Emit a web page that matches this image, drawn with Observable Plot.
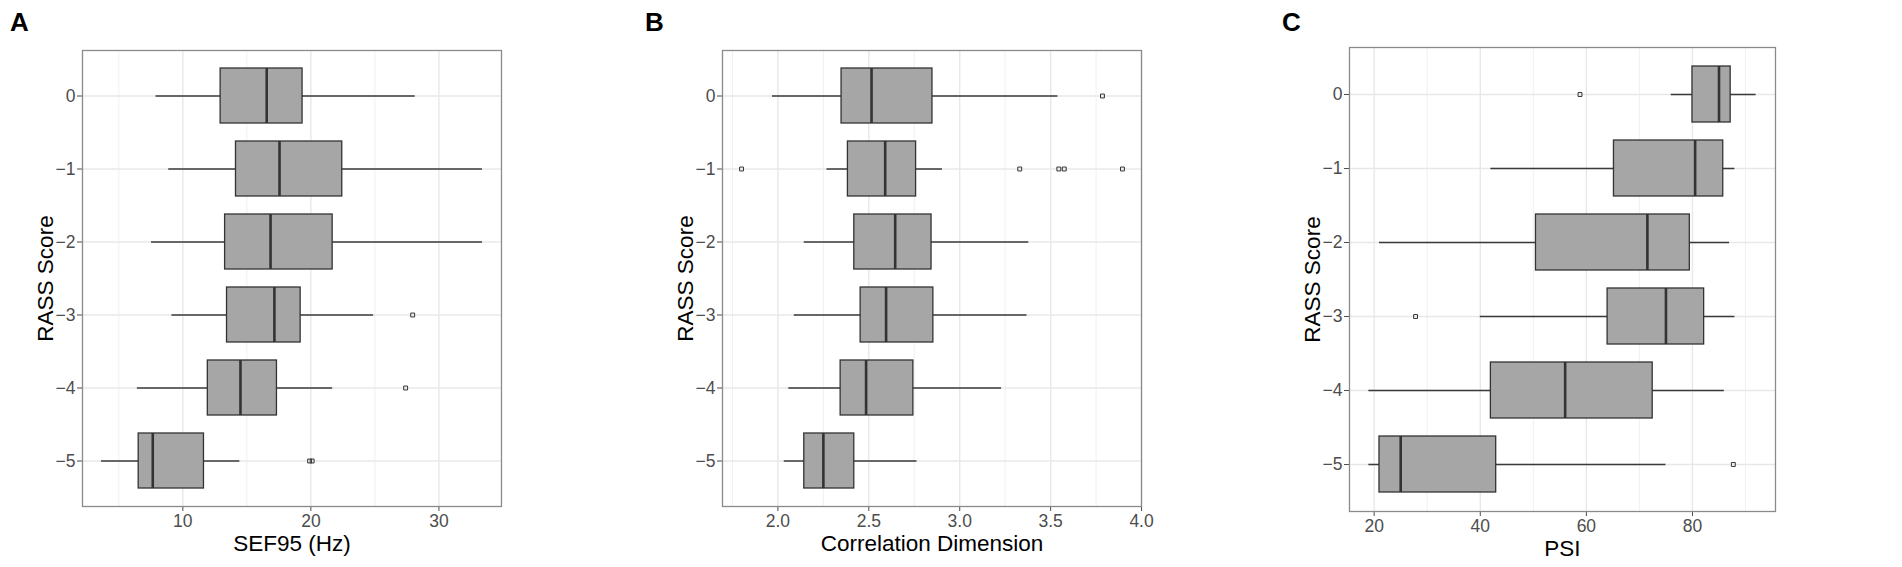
<!DOCTYPE html>
<html>
<head>
<meta charset="utf-8">
<script src="https://cdn.jsdelivr.net/npm/d3@7"></script>
<script src="https://cdn.jsdelivr.net/npm/@observablehq/plot@0.6"></script>
<style>
  html, body { margin: 0; padding: 0; background: #fff; }
  #wrap { position: relative; width: 1902px; height: 567px; overflow: hidden; font-family: "Liberation Sans", Arial, sans-serif; }
  .panel { position: absolute; top: 0; }
  .letter { position: absolute; font-size: 26px; font-weight: bold; line-height: 26px; color: #000; font-family: "Liberation Sans", Arial, sans-serif; }
</style>
</head>
<body>
<div id="wrap"></div>
<script>
// RASS score categories (top to bottom)
const scores = [0, -1, -2, -3, -4, -5];

// Panel A: SEF95 (Hz)
const sefLow    = [7.9, 8.9, 7.55, 9.15, 6.45, 3.65];
const sefQ1     = [12.95, 14.15, 13.3, 13.45, 11.95, 6.55];
const sefMedian = [16.55, 17.55, 16.85, 17.15, 14.5, 7.65];
const sefQ3     = [19.35, 22.45, 21.7, 19.2, 17.35, 11.65];
const sefHigh   = [28.15, 33.4, 33.4, 24.9, 21.7, 14.45];
const sefOutScore = [-3, -4, -5, -5];
const sefOutValue = [27.95, 27.4, 19.9, 20.1];
const sefTicks = [10, 20, 30];
const sefMinor = [5, 15, 25];

// Panel B: Correlation Dimension
const cdLow    = [1.97, 2.27, 2.145, 2.09, 2.06, 2.035];
const cdQ1     = [2.35, 2.385, 2.42, 2.455, 2.345, 2.145];
const cdMedian = [2.515, 2.59, 2.645, 2.595, 2.485, 2.25];
const cdQ3     = [2.85, 2.76, 2.845, 2.855, 2.745, 2.42];
const cdHigh   = [3.54, 2.905, 3.38, 3.37, 3.23, 2.765];
const cdOutScore = [0, -1, -1, -1, -1, -1];
const cdOutValue = [3.785, 1.80, 3.33, 3.545, 3.575, 3.895];
const cdTicks = [2.0, 2.5, 3.0, 3.5, 4.0];
const cdMinor = [1.75, 2.25, 2.75, 3.25, 3.75];

// Panel C: PSI
const psiLow    = [76, 42, 21, 40, 19, 19];
const psiQ1     = [80, 65.2, 50.5, 64, 42, 21];
const psiMedian = [85, 80.5, 71.5, 75, 56, 25];
const psiQ3     = [87.2, 85.8, 79.5, 82.2, 72.5, 43];
const psiHigh   = [92, 88, 87, 88, 86, 75];
const psiOutScore = [0, -3, -5];
const psiOutValue = [58.8, 27.8, 87.7];
const psiTicks = [20, 40, 60, 80];
const psiMinor = [30, 50, 70, 90];

const panels = [
  {letter: "A", title: "SEF95 (Hz)", low: sefLow, q1: sefQ1, med: sefMedian, q3: sefQ3, high: sefHigh,
   outS: sefOutScore, outV: sefOutValue, ticks: sefTicks, minor: sefMinor, fmt: d3.format("d"),
   left: 0, width: 520, mL: 82, mR: 19, mT: 50, mB: 61, letterX: 10},
  {letter: "B", title: "Correlation Dimension", low: cdLow, q1: cdQ1, med: cdMedian, q3: cdQ3, high: cdHigh,
   outS: cdOutScore, outV: cdOutValue, ticks: cdTicks, minor: cdMinor, fmt: d3.format(".1f"),
   left: 630, width: 530, mL: 92, mR: 19, mT: 50, mB: 61, letterX: 645},
  {letter: "C", title: "PSI", low: psiLow, q1: psiQ1, med: psiMedian, q3: psiQ3, high: psiHigh,
   outS: psiOutScore, outV: psiOutValue, ticks: psiTicks, minor: psiMinor, fmt: d3.format("d"),
   left: 1262, width: 532, mL: 87, mR: 19, mT: 47, mB: 56, letterX: 1282}
];

const scoreFmt = d => d < 0 ? "\u2212" + (-d) : String(d);
const wrap = document.getElementById("wrap");

for (const p of panels) {
  const rows = scores.map((s, i) => ({score: s, low: p.low[i], q1: p.q1[i], med: p.med[i], q3: p.q3[i], high: p.high[i]}));
  const outs = p.outS.map((s, i) => ({score: s, value: p.outV[i]}));
  const allVals = [...p.low, ...p.high, ...p.outV];
  const [mn, mx] = d3.extent(allVals);
  const pad = (mx - mn) * 0.05;

  const chart = Plot.plot({
    width: p.width,
    height: 567,
    marginLeft: p.mL,
    marginRight: p.mR,
    marginTop: p.mT,
    marginBottom: p.mB,
    style: {fontFamily: "'Liberation Sans', Arial, sans-serif", fontSize: "17.5px", color: "#4d4d4d", background: "transparent"},
    x: {domain: [mn - pad, mx + pad], ticks: p.ticks, tickFormat: p.fmt, tickSize: 5, tickPadding: 3, label: null},
    y: {type: "band", domain: scores, paddingInner: 0.25, paddingOuter: 0.225, tickFormat: scoreFmt, tickSize: 5, tickPadding: 2, label: null},
    marks: [
      Plot.ruleX(p.minor, {stroke: "#ececec", strokeWidth: 0.8}),
      Plot.ruleX(p.ticks, {stroke: "#e8e8e8", strokeWidth: 1.4}),
      Plot.ruleY(scores, {y: d => d, stroke: "#e8e8e8", strokeWidth: 1.4}),
      Plot.ruleY(rows, {y: "score", x1: "low", x2: "high", stroke: "#3a3a3a", strokeWidth: 1.5}),
      Plot.barX(rows, {y: "score", x1: "q1", x2: "q3", fill: "#a6a6a6", stroke: "#333333", strokeWidth: 1.3}),
      Plot.tickX(rows, {y: "score", x: "med", stroke: "#333333", strokeWidth: 2.6}),
      Plot.dot(outs, {y: "score", x: "value", symbol: "square", r: 2.2, stroke: "#333333", fill: "none", strokeWidth: 1}),
      Plot.frame({stroke: "#8a8a8a", strokeWidth: 1.3}),
      Plot.text([p.title], {frameAnchor: "bottom", dy: 37, textAnchor: "middle", lineAnchor: "middle", fontSize: 22.5, fill: "#000"}),
      Plot.text(["RASS Score"], {frameAnchor: "left", dx: -37, rotate: -90, textAnchor: "middle", lineAnchor: "middle", fontSize: 22.5, fill: "#000"})
    ]
  });
  const div = document.createElement("div");
  div.className = "panel";
  div.style.left = p.left + "px";
  div.appendChild(chart);
  wrap.appendChild(div);

  const lt = document.createElement("div");
  lt.className = "letter";
  lt.style.left = p.letterX + "px";
  lt.style.top = "9px";
  lt.textContent = p.letter;
  wrap.appendChild(lt);
}
</script>
</body>
</html>
